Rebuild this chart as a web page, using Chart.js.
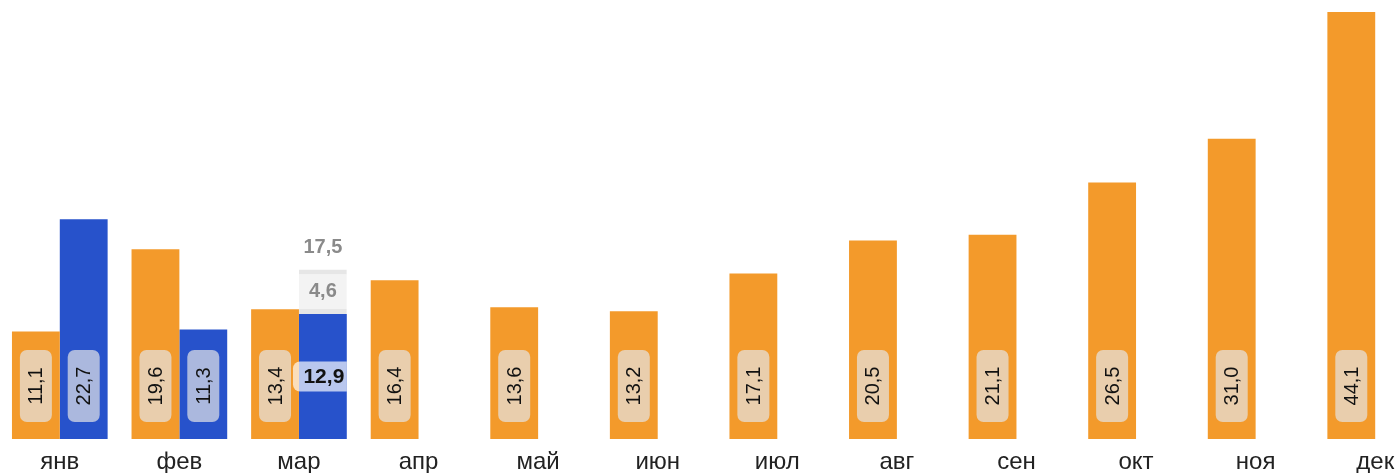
<!DOCTYPE html>
<html>
<head>
<meta charset="utf-8">
<script src="https://cdn.jsdelivr.net/npm/chart.js@4"></script>
<style>
    body { margin: 0; overflow: hidden; background: #fff; }
    #wrap { width: 1435px; height: 473px; overflow: hidden; }
</style>
</head>
<body>
<div id="wrap"><canvas id="monthChart" width="1435" height="485"></canvas></div>
<script>
"use strict";

// Months on the x axis
const months = ['янв', 'фев', 'мар', 'апр', 'май', 'июн', 'июл', 'авг', 'сен', 'окт', 'ноя', 'дек'];
// Orange series (previous period)
const prevValues = [11.1, 19.6, 13.4, 16.4, 13.6, 13.2, 17.1, 20.5, 21.1, 26.5, 31.0, 44.1];
// Blue series (current period, actual)
const currValues = [22.7, 11.3, 12.9, null, null, null, null, null, null, null, null, null];
// Gray part: what remains up to the forecast of the current month
const restValues = [null, null, 4.6, null, null, null, null, null, null, null, null, null];

const ORANGE = '#f39a2b';
const BLUE = '#2752cb';
const FONT = '"Liberation Sans", Arial, sans-serif';

function fmt(v) {
    return v.toFixed(1).replace('.', ',');
}

// Index of the last month with an actual value
const lastIdx = currValues.reduce((acc, v, i) => (v != null ? i : acc), -1);

// Draws the value labels on top of the bars
const valueLabels = {
    id: 'valueLabels',
    afterDatasetsDraw(chart) {
        const ctx = chart.ctx;
        ctx.save();

        // rotated labels in rounded boxes at the bottom of the bars
        [0, 1].forEach(di => {
            const meta = chart.getDatasetMeta(di);
            const values = chart.data.datasets[di].data;
            meta.data.forEach((bar, i) => {
                const v = values[i];
                if (v == null) return;
                if (di === 1 && i === lastIdx) return;
                const bw = 32, bh = 72;
                const x = bar.x;
                const bottom = bar.base - 17;
                ctx.fillStyle = 'rgba(228, 228, 230, 0.7)';
                ctx.beginPath();
                ctx.roundRect(x - bw / 2, bottom - bh, bw, bh, 7);
                ctx.fill();
                ctx.save();
                ctx.translate(x, bottom - bh / 2);
                ctx.rotate(-Math.PI / 2);
                ctx.fillStyle = '#111';
                ctx.font = '20px ' + FONT;
                ctx.textAlign = 'center';
                ctx.textBaseline = 'middle';
                ctx.fillText(fmt(v), 0, 1);
                ctx.restore();
            });
        });

        // current month: horizontal bold label, rest and forecast total
        if (lastIdx >= 0) {
            const bar = chart.getDatasetMeta(1).data[lastIdx];
            const rest = chart.getDatasetMeta(2).data[lastIdx];
            const half = bar.width / 2;
            const cy = (bar.y + bar.base) / 2;

            ctx.fillStyle = 'rgba(255, 255, 255, 0.68)';
            ctx.beginPath();
            ctx.roundRect(bar.x - half - 6, cy - 15, bar.width + 6, 30, [7, 0, 0, 7]);
            ctx.fill();

            ctx.textAlign = 'center';
            ctx.textBaseline = 'middle';
            ctx.fillStyle = '#111';
            ctx.font = 'bold 21px ' + FONT;
            ctx.fillText(fmt(currValues[lastIdx]), bar.x + 1, cy + 1);

            const restVal = restValues[lastIdx];
            if (restVal != null) {
                ctx.fillStyle = '#8a8a8a';
                ctx.font = 'bold 20px ' + FONT;
                ctx.fillText(fmt(restVal), rest.x, (rest.y + rest.base) / 2);
                ctx.fillText(fmt(currValues[lastIdx] + restVal), rest.x, rest.y - 22);
            }
        }
        ctx.restore();
    }
};

const data = {
    labels: months,
    datasets: [
        {
            data: prevValues,
            backgroundColor: ORANGE,
            stack: 'prev'
        },
        {
            data: currValues,
            backgroundColor: BLUE,
            stack: 'curr'
        },
        {
            data: restValues,
            backgroundColor: '#f3f3f3',
            borderColor: '#e6e6e6',
            borderWidth: { top: 5, bottom: 5, left: 0, right: 0 },
            borderSkipped: false,
            stack: 'curr'
        }
    ]
};

const config = {
    type: 'bar',
    data: data,
    options: {
        responsive: false,
        animation: false,
        categoryPercentage: 0.8,
        barPercentage: 1.0,
        layout: { padding: { top: 12, left: 0, right: 0, bottom: 0 } },
        plugins: {
            legend: { display: false },
            tooltip: { enabled: false }
        },
        scales: {
            x: {
                stacked: true,
                grid: { display: false, drawTicks: false },
                border: { display: false },
                ticks: {
                    color: '#222',
                    padding: 11,
                    maxRotation: 0,
                    autoSkip: false,
                    font: { family: FONT, size: 24, lineHeight: 1 }
                }
            },
            y: {
                display: false,
                stacked: true,
                min: 0,
                max: 44.1
            }
        }
    },
    plugins: [valueLabels]
};

const ctx = document.getElementById('monthChart').getContext('2d');
new Chart(ctx, config);
</script>
</body>
</html>
